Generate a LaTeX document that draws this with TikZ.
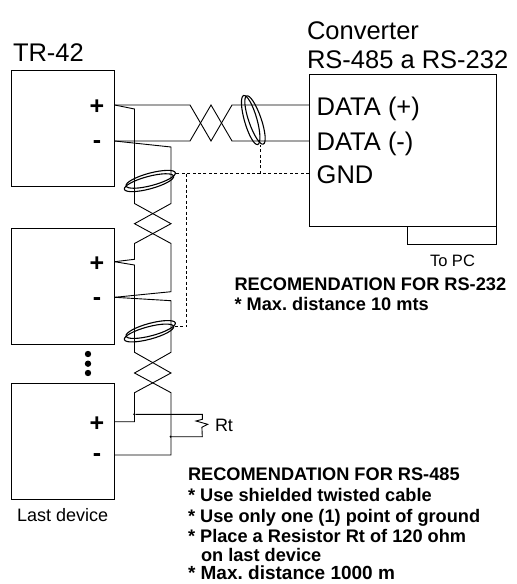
\documentclass[tikz,border=0pt]{standalone}
\usepackage{fontspec}
\setmainfont{Liberation Sans}
\usepackage{tikz}
\usetikzlibrary{shapes.geometric}
\tikzset{add font/.style={font=\fontsize{#1}{#1}\selectfont}}
\tikzset{every text node/.style={inner sep=0pt,outer sep=0pt,anchor=base west}}
\tikzset{big labels/.style={every text node,add font=25.5}}
\tikzset{small labels/.style={every text node,add font=18}}
\tikzset{note labels/.style={every text node,font=\fontsize{#1}{#1}\selectfont\bfseries\frenchspacing},note labels/.default=18.2}
\tikzset{port labels/.style={inner sep=0pt,outer sep=0pt,anchor=base,font=\fontsize{25}{25}\selectfont\bfseries}}
\tikzset{every device node/.style={draw,minimum width=103.7pt,minimum height=116pt,inner sep=0pt,outer sep=0pt}}
\tikzset{every shield node/.style={draw,ellipse,minimum width=51pt,minimum height=12.5pt,inner sep=0pt,outer sep=0pt,line width=1.1pt}}
\tikzset{every dot node/.style={circle,fill=black,inner sep=0pt,outer sep=0pt}}
\begin{document}
\begin{tikzpicture}[x=1pt,y=-1pt,line width=0.9pt,line join=miter]
                    \tikzstyle{gnd wire} = [dashed,dash pattern=on 3pt off 2.4pt,line width=0.8pt]
                    \useasboundingbox (0,0) rectangle (517,584);

                    \node[every device node](D1) at (62.85,128.5){};
                    \node[every device node,below of=D1,node distance=158pt](D2){};
                    \node[every device node,below of=D2,node distance=155pt](D3){};
                    \node[every device node,minimum width=187.7pt,minimum height=151.3pt](Conv) at (402.85,150.35){};
                    \draw (407.7,226) coordinate (Pc1) -- (407.7,244) coordinate (Pc2) -- (496.7,244) coordinate (Pc3) -- (496.7,226) coordinate (Pc4);

                    \node[big labels](TrName) at (13,61.7){TR-42};
                    \node[big labels](ConvName) at (307,39){Converter};
                    \node[big labels](ConvType) at (307,68.3){RS-485 a RS-232};
                    \node[big labels](DataP) at (316.7,115){DATA (+)};
                    \node[big labels](DataM) at (316.7,150.7){DATA (-)};
                    \node[big labels](Gnd) at (316.7,183.3){GND};

                    \node[port labels](P1) at (97,114){+};
                    \node[port labels](M1) at (97,148.5){-};
                    \node[port labels](P2) at (97,271){+};
                    \node[port labels](M2) at (97,305.5){-};
                    \node[port labels](P3) at (97,431){+};
                    \node[port labels](M3) at (97,461.5){-};

                    \node[small labels,add font=16.5](ToPc) at (430,266.7){To PC};
                    \node[small labels](Last) at (17,521.7){Last device};
                    \node[small labels](RtName) at (215,431.7){Rt};

                    \node[note labels](N1) at (234.5,290){RECOMENDATION FOR RS-232};
                    \node[note labels](N2) at (234.5,310){* Max. distance 10 mts};
                    \node[note labels](N3) at (188,480.7){RECOMENDATION FOR RS-485};
                    \node[note labels](N4) at (188,501.7){* Use shielded twisted cable};
                    \node[note labels](N5) at (188,522.3){* Use only one (1) point of ground};
                    \node[note labels](N6) at (188,542.3){* Place a Resistor Rt of 120 ohm};
                    \node[note labels](N7) at (201,561.7){on last device};
                    \node[note labels=19](N8) at (188,579.6){* Max. distance 1000 m};

                    \node[every dot node,minimum size=6.4pt](Dot1) at (88,354){};
                    \node[every dot node,minimum size=6.4pt](Dot2) at (88,363.7){};
                    \node[every dot node,minimum size=6.4pt](Dot3) at (88,373){};
                    \node[every dot node,minimum size=2.4pt](J1) at (134.3,414.3){};
                    \node[every dot node,minimum size=2.4pt](J2) at (170.7,436.7){};

                    % horizontal pair
                    \coordinate (A1) at (114.7,105);
                    \coordinate (A2) at (114.7,141);
                    \coordinate (A3) at (190,105);
                    \coordinate (A4) at (190,141);
                    \coordinate (A5) at (211,105);
                    \coordinate (A6) at (211,141);
                    \coordinate (A7) at (232,105);
                    \coordinate (A8) at (232,141);
                    \coordinate (A9) at (309,105);
                    \coordinate (A10) at (309,141);
                    \draw (A1) -- (A3) -- (A6) -- (A7) -- (A9);
                    \draw (A2) -- (A4) -- (A5) -- (A8) -- (A10);

                    % first device to second
                    \coordinate (B1) at (134.5,109);
                    \coordinate (B2) at (171,147);
                    \coordinate (B3) at (134.5,203.5);
                    \coordinate (B4) at (171,203.5);
                    \coordinate (B5) at (134.5,223.7);
                    \coordinate (B6) at (171,223.7);
                    \coordinate (B7) at (134.5,243.5);
                    \coordinate (B8) at (171,243.5);
                    \coordinate (B9) at (134.5,259.3);
                    \coordinate (B10) at (171,291.7);
                    \draw (A1) -- (B1) -- (B3) -- (B6) -- (B7) -- (B9) -- (114.7,261.7) coordinate (C1);
                    \draw (A2) -- (B2) -- (B4) -- (B5) -- (B8) -- (B10) -- (114.7,297.3) coordinate (C2);

                    % second device to last
                    \coordinate (C3) at (134.5,265);
                    \coordinate (C4) at (171,300.7);
                    \coordinate (C5) at (134.5,352.3);
                    \coordinate (C6) at (171,352.3);
                    \coordinate (C7) at (134.5,373);
                    \coordinate (C8) at (171,373);
                    \coordinate (C9) at (134.5,392.7);
                    \coordinate (C10) at (171,392.7);
                    \coordinate (C11) at (134.5,421.7);
                    \coordinate (C12) at (171,455);
                    \coordinate (C13) at (114.7,421.7);
                    \coordinate (C14) at (114.7,455);
                    \draw (C1) -- (C3) -- (C5) -- (C8) -- (C9) -- (C11) -- (C13);
                    \draw (C2) -- (C4) -- (C6) -- (C7) -- (C10) -- (C12) -- (C14);

                    % resistor
                    \draw (J1) -- (202.3,414.3) coordinate (R1) -- (202.3,419.3) -- (196,421) -- (207.7,424.3) -- (201.9,427.3) -- (202.3,436.7) coordinate (R2) -- (J2);

                    % shields
                    \node[every shield node,rotate=-74](S1a) at (250.7,120){};
                    \node[every shield node,rotate=-71](S1b) at (255,120){};
                    \node[every shield node,rotate=15](S2a) at (149,182.7){};
                    \node[every shield node,rotate=15](S2b) at (150.7,179.3){};
                    \node[every shield node,rotate=15](S3a) at (149,333){};
                    \node[every shield node,rotate=15](S3b) at (150.7,329.5){};

                    % ground
                    \coordinate (G1) at (309,173.7);
                    \coordinate (G2) at (260.3,173.7);
                    \coordinate (G3) at (186.7,173.7);
                    \coordinate (G4) at (186.7,326.7);
                    \draw[gnd wire] (G1) -- (S2b.east |- G1);
                    \draw[gnd wire] (G2) -- (260.3,145) coordinate (G5);
                    \draw[gnd wire] (G3) -- (G4) -- (S3b.east |- G4);
                \end{tikzpicture}
\end{document}
